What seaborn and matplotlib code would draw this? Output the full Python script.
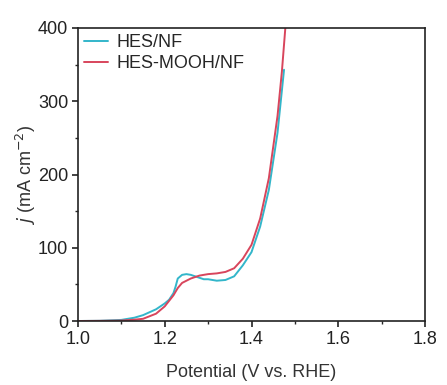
"""LSV curves of HES/NF and HES-MOOH/NF"""

import matplotlib
matplotlib.use("Agg")
import matplotlib.pyplot as plt
import pandas as pd
import seaborn as sns
from matplotlib.ticker import MultipleLocator

sns.set_style("ticks")
plt.rcParams['font.family'] = ['Liberation Sans', 'DejaVu Sans']

# values
hes_v = [1.00, 1.05, 1.10, 1.13, 1.15, 1.18, 1.20, 1.21, 1.22, 1.225, 1.23, 1.24, 1.25, 1.26,
         1.27, 1.28, 1.29, 1.30, 1.32, 1.34, 1.36, 1.38, 1.40, 1.42, 1.44, 1.46, 1.475]
hes_j = [0, 0.3, 1.5, 4.5, 8, 16, 24, 29, 38, 47, 58, 63, 64, 63,
         61, 59, 57, 57, 55, 56, 61, 76, 94, 129, 179, 257, 343]

mooh_v = [1.00, 1.05, 1.10, 1.13, 1.15, 1.18, 1.20, 1.22, 1.23, 1.24, 1.26, 1.28, 1.30, 1.32,
          1.34, 1.36, 1.38, 1.40, 1.42, 1.44, 1.46, 1.47, 1.478]
mooh_j = [0, 0.2, 0.6, 1.8, 3, 10, 20, 35, 45, 52, 58, 62, 64, 65,
          67, 72, 85, 104, 140, 195, 280, 340, 400]

labels = ["HES/NF", "HES-MOOH/NF"]
colors = ["#33b6ca", "#d8455c"]


def build_frame():
    frames = []
    for v, j, name in [(hes_v, hes_j, labels[0]), (mooh_v, mooh_j, labels[1])]:
        frames.append(pd.DataFrame({"Potential": v, "j": j, "Sample": name}))
    return pd.concat(frames, ignore_index=True)


df = build_frame()

fig = plt.figure(figsize=(4.47, 3.85), dpi=100)
ax = fig.add_axes([78 / 447, 1 - 321 / 385, (425 - 78) / 447, (321 - 28) / 385])

sns.lineplot(data=df, x="Potential", y="j", hue="Sample", palette=colors, sort=False,
             linewidth=1.4, ax=ax, estimator=None)

ax.set_xlim(1.0, 1.8)
ax.set_ylim(0, 400)
ax.xaxis.set_major_locator(MultipleLocator(0.2))
ax.xaxis.set_minor_locator(MultipleLocator(0.1))
ax.yaxis.set_major_locator(MultipleLocator(100))
ax.yaxis.set_minor_locator(MultipleLocator(50))
ax.tick_params(which='major', direction='out', length=4, width=1.2, labelsize=13, pad=3,
               colors='#222222')
ax.tick_params(which='minor', direction='out', length=2.5, width=1.0)
for s in ax.spines.values():
    s.set_linewidth(1.2)
    s.set_color('#222222')

ax.set_xlabel("Potential (V vs. RHE)", fontsize=13, color='#333333')
ax.set_ylabel(r"$j$ (mA cm$^{-2}$)", fontsize=13, color='#333333')
ax.xaxis.set_label_coords(0.5, -0.148)
ax.yaxis.set_label_coords(-0.115, 0.5)

ax.legend(loc='upper left', frameon=False, fontsize=13, handlelength=1.3,
          borderaxespad=0.1, borderpad=0.25, labelspacing=0.2, handletextpad=0.5)

fig.savefig("out.png", dpi=100)
